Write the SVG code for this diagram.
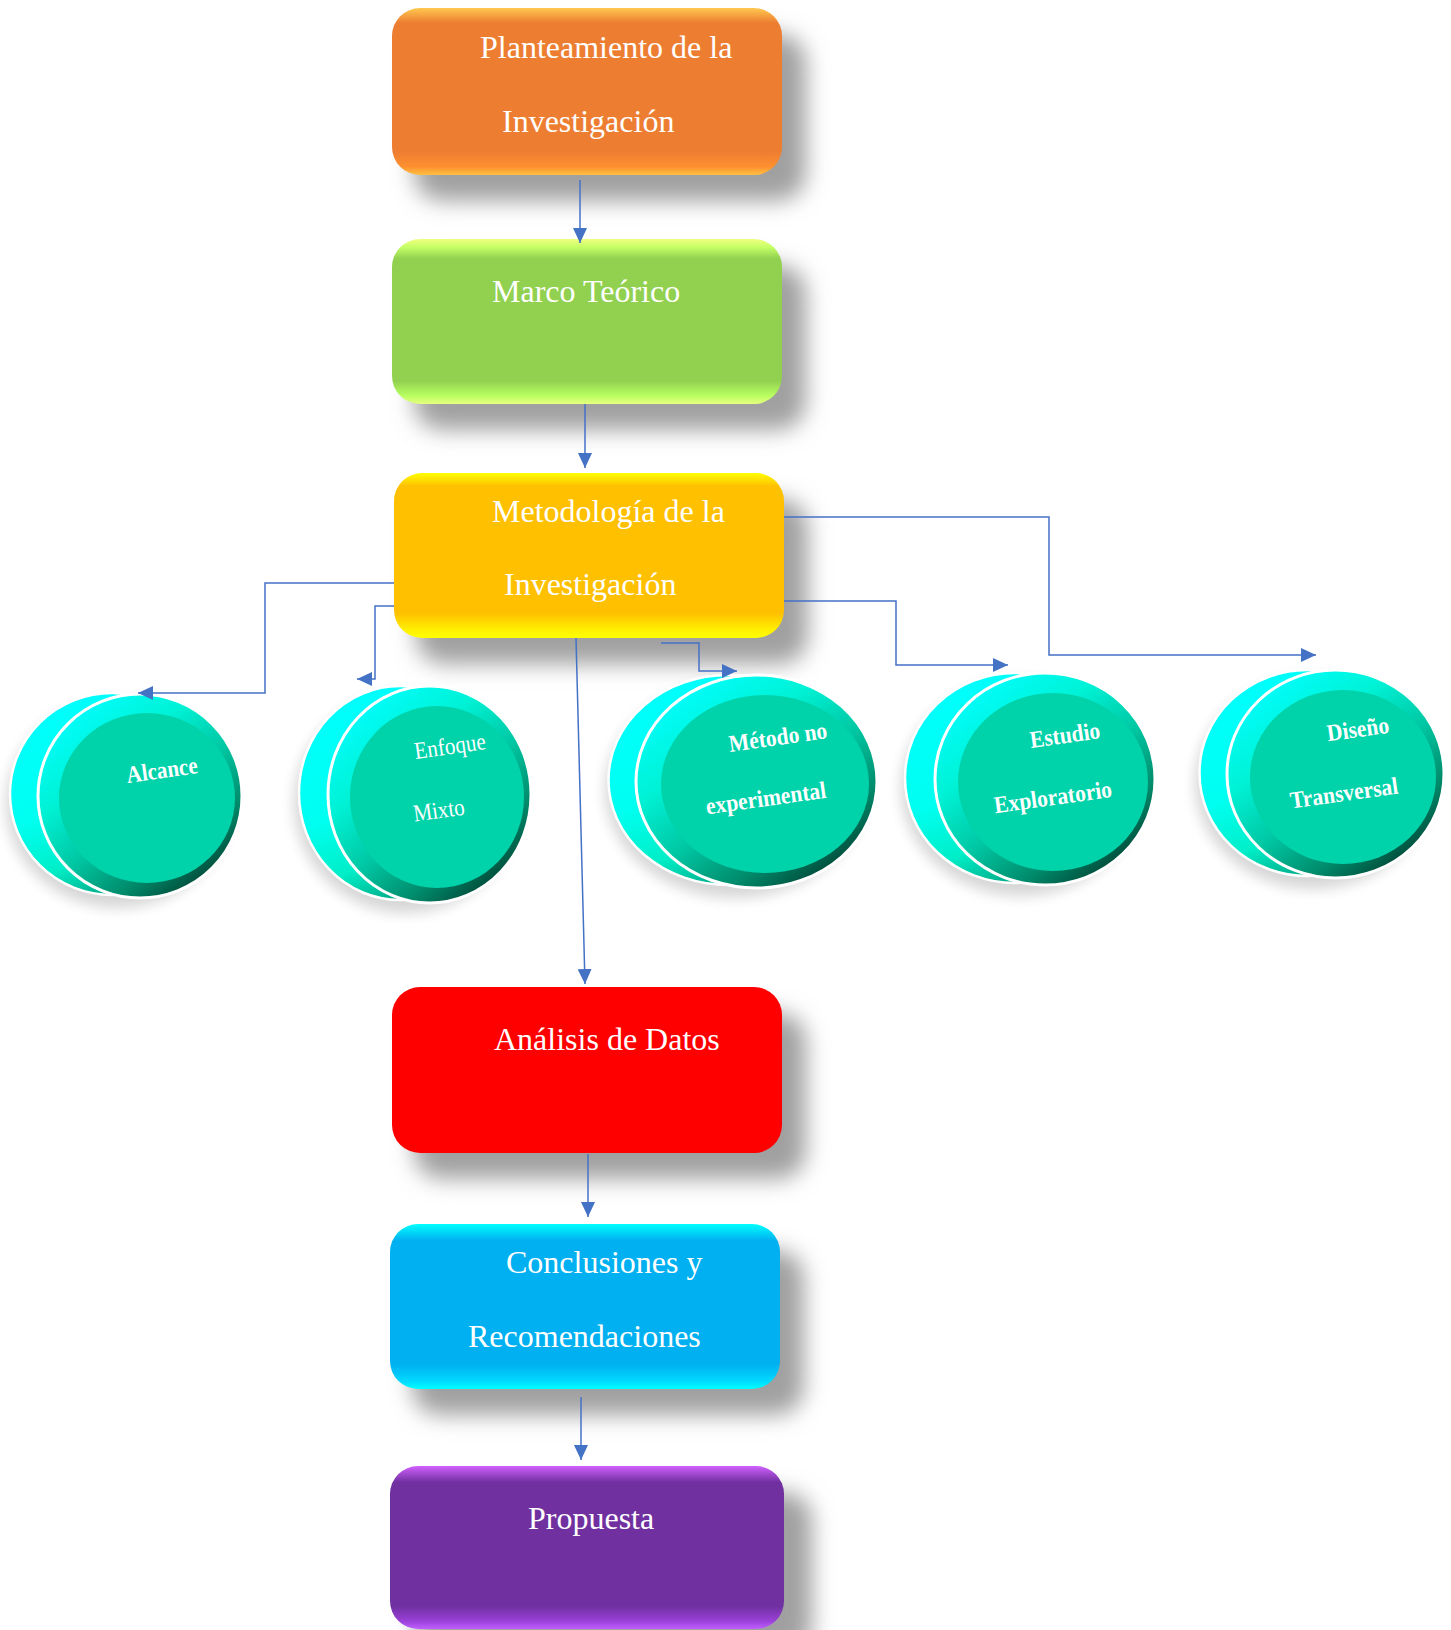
<svg xmlns="http://www.w3.org/2000/svg" width="1451" height="1630" viewBox="0 0 1451 1630">
<defs>
<style>
.box-t{font-family:"Liberation Serif","Times New Roman",serif;font-size:32px;fill:#ffffff;}
.c-t{font-family:"Liberation Serif","Times New Roman",serif;font-size:24px;fill:#ffffff;text-anchor:middle;}
.b{font-weight:bold;}
.shadow{fill:#a0a0a0;filter:url(#blur);}
.dshadow{fill:#000;opacity:0.16;filter:url(#blur2);}
.back{fill:url(#backGrad);stroke:#ffffff;stroke-width:2.5;}
.ring{fill:url(#ringGrad);stroke:#ffffff;stroke-width:3;}
.face{fill:#00D2AA;}
.conn{fill:none;stroke:#4472C4;stroke-width:1.5;marker-end:url(#arr);}
</style>
<filter id="blur" x="-20%" y="-30%" width="140%" height="170%"><feGaussianBlur stdDeviation="11"/></filter>
<filter id="blur2" x="-30%" y="-30%" width="160%" height="160%"><feGaussianBlur stdDeviation="7"/></filter>
<marker id="arr" markerUnits="userSpaceOnUse" markerWidth="15" markerHeight="14" refX="15" refY="7" orient="auto"><path d="M0,0 L15,7 L0,14 z" fill="#4472C4"/></marker>
<linearGradient id="gOrange" x1="0" y1="0" x2="0" y2="1">
<stop offset="0" stop-color="#FFC850"/><stop offset="0.09" stop-color="#ED7D31"/><stop offset="0.86" stop-color="#ED7D31"/><stop offset="0.95" stop-color="#FF9030"/><stop offset="1" stop-color="#FFC040"/></linearGradient>
<linearGradient id="gGreen" x1="0" y1="0" x2="0" y2="1">
<stop offset="0" stop-color="#F0FF80"/><stop offset="0.05" stop-color="#C4FF66"/><stop offset="0.12" stop-color="#92D050"/><stop offset="0.86" stop-color="#92D050"/><stop offset="0.95" stop-color="#B8FF60"/><stop offset="1" stop-color="#E8FF80"/></linearGradient>
<linearGradient id="gYellow" x1="0" y1="0" x2="0" y2="1">
<stop offset="0" stop-color="#FFFF00"/><stop offset="0.08" stop-color="#FFC000"/><stop offset="0.85" stop-color="#FFC000"/><stop offset="0.95" stop-color="#FFF000"/><stop offset="1" stop-color="#FFFF00"/></linearGradient>
<linearGradient id="gCyan" x1="0" y1="0" x2="0" y2="1">
<stop offset="0" stop-color="#00FFFF"/><stop offset="0.1" stop-color="#00B0F0"/><stop offset="0.85" stop-color="#00B0F0"/><stop offset="0.95" stop-color="#00D8FF"/><stop offset="1" stop-color="#00FFFF"/></linearGradient>
<linearGradient id="gPurple" x1="0" y1="0" x2="0" y2="1">
<stop offset="0" stop-color="#D060FF"/><stop offset="0.1" stop-color="#7030A0"/><stop offset="0.86" stop-color="#7030A0"/><stop offset="0.95" stop-color="#9A40D8"/><stop offset="1" stop-color="#C060FF"/></linearGradient>
<linearGradient id="backGrad" x1="0.1" y1="0" x2="0.5" y2="1">
<stop offset="0" stop-color="#00FFFF"/><stop offset="0.55" stop-color="#00FFF0"/><stop offset="0.8" stop-color="#00EEC8"/><stop offset="1" stop-color="#00A884"/></linearGradient>
<linearGradient id="ringGrad" x1="0.15" y1="0.05" x2="0.85" y2="0.95">
<stop offset="0" stop-color="#00FFFF"/><stop offset="0.3" stop-color="#00F2D6"/><stop offset="0.55" stop-color="#00C8A4"/><stop offset="0.78" stop-color="#008C6C"/><stop offset="1" stop-color="#003A2C"/></linearGradient>
</defs>
<rect width="1451" height="1630" fill="#ffffff"/>

<g id="shadows">
<rect class="shadow" x="414" y="34" width="392" height="167" rx="28"/>
<rect class="shadow" x="414" y="265" width="392" height="165" rx="28"/>
<rect class="shadow" x="416" y="499" width="392" height="165" rx="28"/>
<rect class="shadow" x="414" y="1013" width="392" height="166" rx="28"/>
<rect class="shadow" x="412" y="1250" width="392" height="165" rx="28"/>
<rect class="shadow" x="416" y="1492" width="396" height="164" rx="28"/>
</g>

<g id="n1">
<rect x="392" y="8" width="390" height="167" rx="28" fill="url(#gOrange)"/>
<text class="box-t" x="480" y="58">Planteamiento de la</text>
<text class="box-t" x="502" y="132">Investigación</text>
</g>
<g id="n2">
<rect x="392" y="239" width="390" height="165" rx="28" fill="url(#gGreen)"/>
<text class="box-t" x="492" y="302">Marco Teórico</text>
</g>
<g id="n3">
<rect x="394" y="473" width="390" height="165" rx="28" fill="url(#gYellow)"/>
<text class="box-t" x="492" y="522">Metodología de la</text>
<text class="box-t" x="504" y="595">Investigación</text>
</g>
<g id="n4">
<rect x="392" y="987" width="390" height="166" rx="28" fill="#FF0000"/>
<text class="box-t" x="494" y="1050">Análisis de Datos</text>
</g>
<g id="n5">
<rect x="390" y="1224" width="390" height="165" rx="28" fill="url(#gCyan)"/>
<text class="box-t" x="506" y="1273">Conclusiones y</text>
<text class="box-t" x="468" y="1347">Recomendaciones</text>
</g>
<g id="n6">
<rect x="390" y="1466" width="394" height="163" rx="28" fill="url(#gPurple)"/>
<text class="box-t" x="528" y="1529">Propuesta</text>
</g>

<g id="c1">
<ellipse class="dshadow" cx="118" cy="804" rx="112" ry="104"/>
<ellipse class="back" cx="112" cy="794" rx="102" ry="101"/>
<ellipse class="ring" cx="140" cy="796" rx="102" ry="102"/>
<ellipse class="face" cx="147" cy="798" rx="88" ry="85"/>
<text class="c-t b" transform="translate(163,778) rotate(-8) scale(0.88,1)">Alcance</text>
</g>
<g id="c2">
<ellipse class="dshadow" cx="406" cy="803" rx="112" ry="110"/>
<ellipse class="back" cx="400" cy="793" rx="101" ry="107"/>
<ellipse class="ring" cx="429.5" cy="794.5" rx="101.5" ry="108.5"/>
<ellipse class="face" cx="437" cy="797" rx="87" ry="91"/>
<text class="c-t" transform="translate(451,754) rotate(-8) scale(0.88,1)">Enfoque</text>
<text class="c-t" transform="translate(440,818) rotate(-8) scale(0.88,1)">Mixto</text>
</g>
<g id="c3">
<ellipse class="dshadow" cx="735" cy="790" rx="130" ry="108"/>
<ellipse class="back" cx="728.5" cy="780" rx="120" ry="105"/>
<ellipse class="ring" cx="756.5" cy="781.5" rx="120.5" ry="106.5"/>
<ellipse class="face" cx="765" cy="784" rx="104" ry="89"/>
<text class="c-t b" transform="translate(779,745) rotate(-8) scale(0.9,1)">Método no</text>
<text class="c-t b" transform="translate(767,806) rotate(-8) scale(0.9,1)">experimental</text>
</g>
<g id="c4">
<ellipse class="dshadow" cx="1021" cy="788" rx="120" ry="108"/>
<ellipse class="back" cx="1015" cy="778" rx="110" ry="105"/>
<ellipse class="ring" cx="1045" cy="779" rx="110" ry="106"/>
<ellipse class="face" cx="1053" cy="782" rx="95" ry="89"/>
<text class="c-t b" transform="translate(1066,743) rotate(-8) scale(0.9,1)">Estudio</text>
<text class="c-t b" transform="translate(1054,805) rotate(-8) scale(0.9,1)">Exploratorio</text>
</g>
<g id="c5">
<ellipse class="dshadow" cx="1313" cy="783" rx="118" ry="106"/>
<ellipse class="back" cx="1307.5" cy="773" rx="108" ry="103"/>
<ellipse class="ring" cx="1335.5" cy="774" rx="108.5" ry="104"/>
<ellipse class="face" cx="1343" cy="777" rx="93" ry="87"/>
<text class="c-t b" transform="translate(1359,737) rotate(-8) scale(0.9,1)">Diseño</text>
<text class="c-t b" transform="translate(1345,801) rotate(-8) scale(0.9,1)">Transversal</text>
</g>

<g id="connectors">
<path class="conn" d="M580,180 L580,243"/>
<path class="conn" d="M585,404 L585,468"/>
<path class="conn" d="M576,638 L585,984"/>
<path class="conn" d="M588,1154 L588,1217"/>
<path class="conn" d="M581,1397 L581,1460"/>
<path class="conn" d="M394,583 L265,583 L265,693 L138,693"/>
<path class="conn" d="M394,606 L375,606 L375,679 L357,679"/>
<path class="conn" d="M661,643 L699,643 L699,671 L737,671"/>
<path class="conn" d="M784,601 L896,601 L896,665 L1008,665"/>
<path class="conn" d="M784,517 L1049,517 L1049,655 L1316,655"/>
</g>
</svg>
